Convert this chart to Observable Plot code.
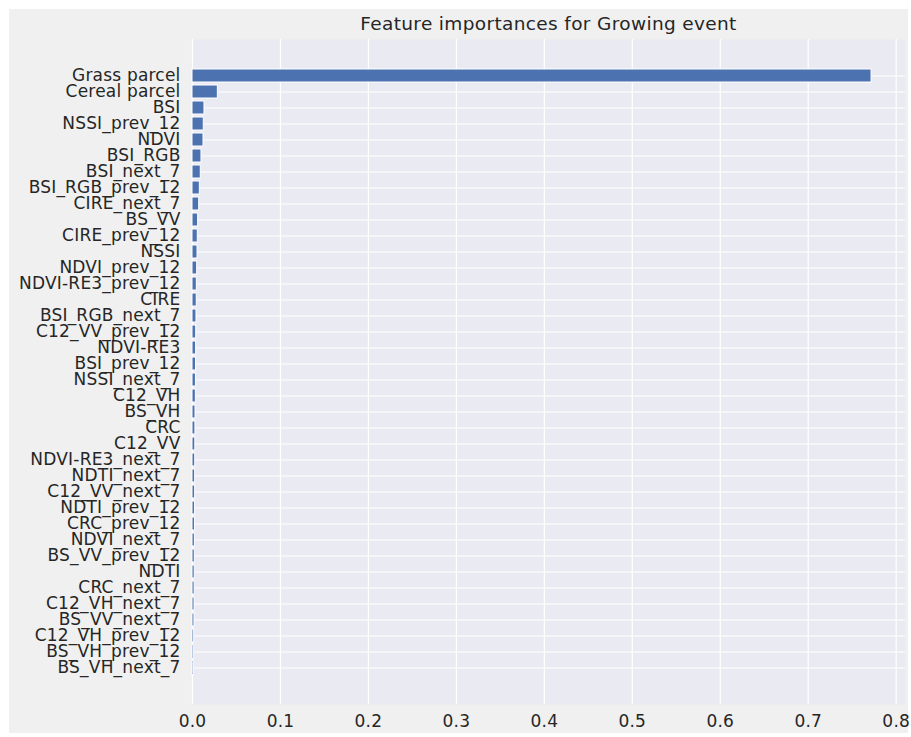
<!DOCTYPE html>
<html>
<head>
<meta charset="utf-8">
<script src="https://cdn.jsdelivr.net/npm/d3@7"></script>
<script src="https://cdn.jsdelivr.net/npm/@observablehq/plot@0.6"></script>
<style>
  html, body { margin: 0; padding: 0; background: #ffffff; }
  #wrap { position: relative; width: 911px; height: 737px; overflow: hidden; }
  #bg { position: absolute; left: 9px; top: 9px; width: 899px; height: 724px; background: #f0f0f0; }
  #title { position: absolute; left: 192px; width: 713px; top: 13px; text-align: center;
           font-family: "DejaVu Sans", sans-serif; font-size: 18.5px; letter-spacing: 0.35px; color: #262626; }
  #chart { position: absolute; left: 0; top: 0; }
  #chart svg text { letter-spacing: 0.2px; }
</style>
</head>
<body>
<div id="wrap">
  <div id="bg"></div>
  <div id="chart"></div>
  <div id="title">Feature importances for Growing event</div>
</div>
<script>
const features = [
  "Grass parcel", "Cereal parcel", "BSI", "NSSI_prev_12", "NDVI", "BSI_RGB", "BSI_next_7",
  "BSI_RGB_prev_12", "CIRE_next_7", "BS_VV", "CIRE_prev_12", "NSSI", "NDVI_prev_12",
  "NDVI-RE3_prev_12", "CIRE", "BSI_RGB_next_7", "C12_VV_prev_12", "NDVI-RE3", "BSI_prev_12",
  "NSSI_next_7", "C12_VH", "BS_VH", "CRC", "C12_VV", "NDVI-RE3_next_7", "NDTI_next_7",
  "C12_VV_next_7", "NDTI_prev_12", "CRC_prev_12", "NDVI_next_7", "BS_VV_prev_12", "NDTI",
  "CRC_next_7", "C12_VH_next_7", "BS_VV_next_7", "C12_VH_prev_12", "BS_VH_prev_12", "BS_VH_next_7"
];
const importances = [
  0.772, 0.0288, 0.0136, 0.0128, 0.0125, 0.0102, 0.0094,
  0.0083, 0.0076, 0.0064, 0.0060, 0.0057, 0.0053,
  0.0049, 0.0048, 0.0045, 0.0042, 0.0041, 0.0040,
  0.0039, 0.0038, 0.0034, 0.0033, 0.0032, 0.0031, 0.0030,
  0.0030, 0.0029, 0.0028, 0.0027, 0.0026, 0.0025,
  0.0024, 0.0023, 0.0022, 0.0019, 0.0014, 0.0012
];
const xTicks = [0, 0.1, 0.2, 0.3, 0.4, 0.5, 0.6, 0.7, 0.8];

const data = features.map((f, i) => ({feature: f, value: importances[i]}));

const chart = Plot.plot({
  width: 911,
  height: 737,
  marginTop: 39,
  marginBottom: 33,
  marginLeft: 192,
  marginRight: 6,
  style: {background: "transparent", fontFamily: "DejaVu Sans, sans-serif", fontSize: "17px", color: "#262626"},
  x: {domain: [0, 0.8106], ticks: xTicks, tickFormat: d3.format(".1f"), label: null},
  y: {domain: features, padding: 0.2, paddingOuter: 1.825, label: null},
  marks: [
    Plot.frame({fill: "#eaeaf2", stroke: "none"}),
    Plot.ruleX(xTicks, {stroke: "#ffffff", strokeWidth: 1.2}),
    Plot.tickY(features, {y: d => d, stroke: "#ffffff", strokeWidth: 1.2}),
    Plot.barX(data, {x: "value", y: "feature", fill: "#4c72b0", stroke: "#ffffff", strokeWidth: 1}),
    Plot.axisX({ticks: xTicks, tickFormat: d3.format(".1f"), tickSize: 0, tickPadding: 10, fontSize: "17px", fill: "#262626", label: null}),
    Plot.axisY({tickSize: 0, tickPadding: 12, fontSize: "17px", fill: "#262626", label: null})
  ]
});
document.getElementById("chart").appendChild(chart);
</script>
</body>
</html>
